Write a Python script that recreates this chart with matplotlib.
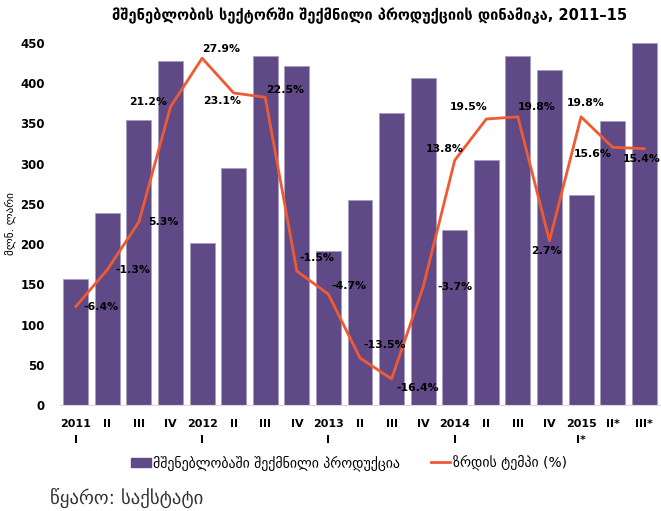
import matplotlib.pyplot as plt
from matplotlib.patches import Patch
from matplotlib.lines import Line2D

quarters = ["2011\nI", "II", "III", "IV", "2012\nI", "II", "III", "IV",
            "2013\nI", "II", "III", "IV", "2014\nI", "II", "III", "IV",
            "2015\nI*", "II*", "III*"]
output = [157, 239, 354, 428, 201, 295, 434, 422, 191, 255, 363, 406,
          218, 305, 434, 417, 261, 353, 450]
growth = [-6.4, -1.3, 5.3, 21.2, 27.9, 23.1, 22.5, -1.5, -4.7, -13.5,
          -16.4, -3.7, 13.8, 19.5, 19.8, 2.7, 19.8, 15.6, 15.4]

# label placement: (dx px, dy px, ha, va)
lab_pos = [(8, 0, "left", "center"), (8, 0, "left", "center"),
           (9, 0, "left", "center"), (-3, 5, "right", "center"),
           (0, 4, "left", "bottom"), (-12, -3, "center", "top"),
           (1, 7, "left", "center"), (3, 13, "left", "center"),
           (3, 8, "left", "center"), (3, 13, "left", "center"),
           (5, -9, "left", "center"), (14, 0, "left", "center"),
           (9, 11, "right", "center"), (1, 12, "right", "center"),
           (0, 10, "left", "center"), (-3, -5, "center", "top"),
           (5, 9, "center", "bottom"), (-1, -7, "right", "center"),
           (-2, -5, "center", "top")]

purple = "#5f4a87"
orange = "#f05a32"

fig = plt.figure(figsize=(6.61, 5.11), dpi=100)
ax = fig.add_axes([60 / 661, 106 / 511, 600 / 661, 362 / 511])
x = list(range(len(quarters)))
ax.bar(x, output, width=0.79, color=purple, edgecolor="#a89cc4", linewidth=0.6)
ax.set_xlim(-0.5, len(quarters) - 0.5)
ax.set_ylim(0, 450)
ax.set_yticks(range(0, 451, 50))
ax.set_xticks(x)
ax.set_xticklabels(quarters, fontsize=8, fontweight="bold", linespacing=1.8)
for t in ax.get_yticklabels():
    t.set_fontsize(8.5)
    t.set_fontweight("bold")
ax.tick_params(axis="both", length=0)
ax.tick_params(axis="y", pad=11)
ax.tick_params(axis="x", pad=10)
for s in ["top", "right", "left"]:
    ax.spines[s].set_visible(False)
ax.spines["bottom"].set_color("#d9d9d9")
ax.set_ylabel("მლნ. ლარი", fontsize=8, labelpad=3)

ax2 = ax.twinx()
ax2.plot(x, growth, color=orange, lw=2)
ax2.set_ylim(-20, 30)
ax2.axis("off")
for i, v in enumerate(growth):
    dx, dy, ha, va = lab_pos[i]
    ax2.annotate(f"{v}%", (i, v), xytext=(dx, dy), textcoords="offset pixels",
                 ha=ha, va=va, fontsize=7.8, fontweight="bold")

fig.text(370 / 661, 1 - 16 / 511,
         "მშენებლობის სექტორში შექმნილი პროდუქციის დინამიკა, 2011–15",
         ha="center", va="center", fontsize=10.5, fontweight="bold")

handles = [Patch(color=purple), Line2D([0], [0], color=orange, lw=2)]
fig.legend(handles, ["მშენებლობაში შექმნილი პროდუქცია", "ზრდის ტემპი (%)"],
           loc="center", bbox_to_anchor=(349 / 661, 1 - 463 / 511), ncol=2,
           frameon=False, fontsize=10, handlelength=1.4, handletextpad=0.2,
           columnspacing=2.2)

fig.text(50 / 661, 1 - 498 / 511, "წყარო: საქსტატი", fontsize=13.5,
         color="#333333", va="center")

fig.savefig("out.png", dpi=100)
